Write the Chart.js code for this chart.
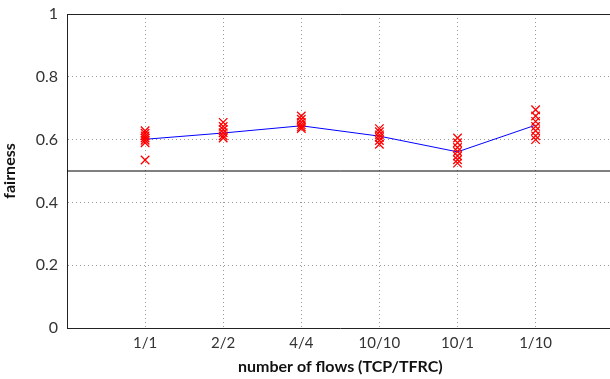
<!DOCTYPE html>
<html>
<head>
<meta charset="utf-8">
<script src="https://cdn.jsdelivr.net/npm/chart.js@4.4.0/dist/chart.umd.min.js"></script>
<style>
  html, body { margin: 0; padding: 0; background: #fff; overflow: hidden; }
  #wrap { width: 621px; height: 379px; }
</style>
</head>
<body>
<div id="wrap"><canvas id="fairChart" width="621" height="379"></canvas></div>
<script>
// flow mixes (TCP/TFRC)
var categories = ['1/1', '2/2', '4/4', '10/10', '10/1', '1/10'];

// individual fairness runs per flow mix
var runs11   = [0.628, 0.620, 0.612, 0.605, 0.598, 0.590, 0.535];
var runs22   = [0.655, 0.642, 0.632, 0.622, 0.612, 0.605];
var runs44   = [0.675, 0.665, 0.655, 0.647, 0.640, 0.635];
var runs1010 = [0.635, 0.625, 0.615, 0.607, 0.597, 0.585];
var runs101  = [0.605, 0.590, 0.575, 0.562, 0.548, 0.536, 0.525];
var runs110  = [0.695, 0.675, 0.658, 0.642, 0.628, 0.612, 0.600];

// average fairness per flow mix
var meanFairness = [0.601, 0.621, 0.644, 0.611, 0.561, 0.646];

var refLevel = 0.5;
var yTicks = [0, 0.2, 0.4, 0.6, 0.8, 1];

var allRuns = [runs11, runs22, runs44, runs1010, runs101, runs110];
var runPoints = [];
allRuns.forEach(function (list, i) {
  list.forEach(function (v) { runPoints.push({ x: i + 1, y: v }); });
});
var meanPoints = meanFairness.map(function (v, i) { return { x: i + 1, y: v }; });

var font = "'Lato', 'DejaVu Sans', sans-serif";

var topFrame = {
  id: 'topFrame',
  afterDraw: function (chart) {
    var a = chart.chartArea, ctx = chart.ctx;
    ctx.save();
    ctx.strokeStyle = '#222';
    ctx.lineWidth = 1;
    ctx.beginPath();
    ctx.moveTo(a.left, a.top + 0.5);
    ctx.lineTo(a.right, a.top + 0.5);
    ctx.stroke();
    ctx.restore();
  }
};

new Chart(document.getElementById('fairChart').getContext('2d'), {
  type: 'scatter',
  data: {
    datasets: [
      {
        label: 'runs',
        data: runPoints,
        showLine: false,
        pointStyle: 'crossRot',
        pointRadius: 6,
        pointBorderColor: '#ff0000',
        pointBorderWidth: 1.3,
        order: 1
      },
      {
        label: 'mean',
        data: meanPoints,
        showLine: true,
        borderColor: '#0000ff',
        borderWidth: 1,
        pointRadius: 0,
        order: 2
      },
      {
        label: 'reference',
        data: [{ x: 0, y: refLevel }, { x: 7, y: refLevel }],
        showLine: true,
        borderColor: '#000',
        borderWidth: 1,
        pointRadius: 0,
        order: 3
      }
    ]
  },
  options: {
    responsive: false,
    animation: false,
    layout: { padding: { top: 0, left: 0, right: 0, bottom: 0 } },
    plugins: { legend: { display: false }, tooltip: { enabled: false } },
    scales: {
      x: {
        type: 'linear',
        min: 0,
        max: 7,
        afterBuildTicks: function (scale) {
          scale.ticks = [0, 1, 2, 3, 4, 5, 6, 7].map(function (v) { return { value: v }; });
        },
        afterFit: function (scale) { scale.height = 51; },
        ticks: {
          padding: 6,
          color: '#333',
          font: { family: font, size: 15 },
          maxRotation: 0,
          autoSkip: false,
          callback: function (v) { return categories[v - 1] || ''; }
        },
        grid: {
          drawTicks: false,
          color: function (c) {
            var v = c.tick && c.tick.value;
            return (v >= 1 && v <= 6) ? '#999' : 'rgba(0,0,0,0)';
          },
          lineWidth: 1
        },
        border: { display: true, color: '#222', width: 1, dash: [1, 3] },
        title: {
          display: true,
          text: 'number of flows (TCP/TFRC)',
          color: '#111',
          font: { family: font, size: 16, weight: 'bold' },
          padding: { top: 0, bottom: 3 }
        }
      },
      y: {
        min: 0,
        max: 1,
        afterBuildTicks: function (scale) {
          scale.ticks = yTicks.map(function (v) { return { value: v }; });
        },
        afterFit: function (scale) {
          scale.width = 67;
          scale.paddingTop = 14;
          scale.paddingBottom = 0;
        },
        ticks: {
          padding: 9,
          color: '#333',
          font: { family: font, size: 16 },
          callback: function (v) { return String(Math.round(v * 10) / 10); }
        },
        grid: {
          drawTicks: false,
          color: function (c) {
            var v = c.tick && c.tick.value;
            return (v > 0.01 && v < 0.99) ? '#999' : 'rgba(0,0,0,0)';
          },
          lineWidth: 1
        },
        border: { display: true, color: '#222', width: 1, dash: [1, 3] },
        title: {
          display: true,
          text: 'fairness',
          color: '#111',
          font: { family: font, size: 16, weight: 'bold' },
          padding: { top: 0, bottom: 2 }
        }
      }
    }
  },
  plugins: [topFrame]
});
</script>
</body>
</html>
